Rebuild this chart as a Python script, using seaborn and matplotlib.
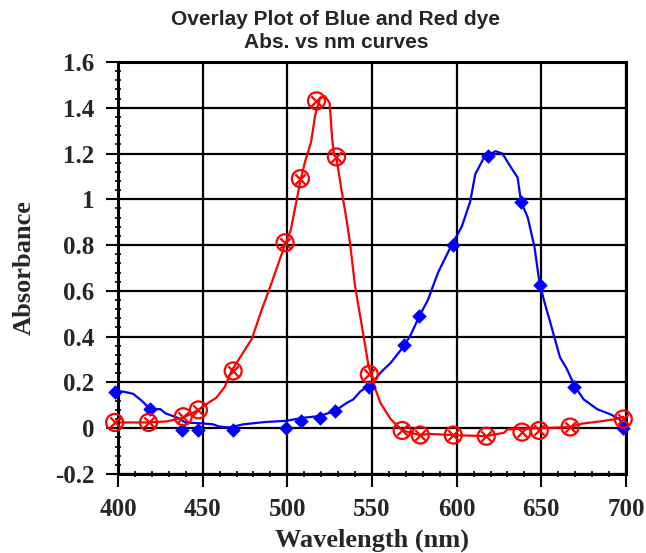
import numpy as np
import pandas as pd
import matplotlib
matplotlib.use("Agg")
import matplotlib.pyplot as plt
from matplotlib.ticker import MultipleLocator
import seaborn as sns

# traced curves (wavelength nm, absorbance)
blue_line_wl = [398, 403, 409, 414, 419, 425, 428, 435, 440, 448, 456, 460, 466, 474,
                487, 499, 510, 519, 528, 535, 539, 543, 549, 556, 561, 569, 573, 578,
                583, 589, 597, 603, 608, 611, 616, 619, 623, 627, 632, 636, 638, 642,
                646, 649, 653, 655, 658, 661, 665, 670, 675, 683, 691, 696, 699]
blue_line_abs = [0.16, 0.16, 0.15, 0.12, 0.083, 0.083, 0.065, 0.046, 0.024, 0.022, 0.017,
                 0.007, 0.003, 0.017, 0.027, 0.032, 0.046, 0.053, 0.075, 0.11, 0.126, 0.16,
                 0.19, 0.25, 0.285, 0.36, 0.41, 0.49, 0.56, 0.68, 0.80, 0.88, 0.99, 1.11,
                 1.18, 1.195, 1.21, 1.20, 1.14, 1.095, 0.99, 0.92, 0.79, 0.63, 0.52, 0.47,
                 0.39, 0.31, 0.26, 0.18, 0.126, 0.083, 0.06, 0.04, 0.01]

red_line_wl = [398, 418, 429, 438.6, 447.5, 452, 458, 463, 467, 479, 485, 490, 494, 499,
               502, 508, 510.5, 514, 516.5, 519.3, 522.3, 525, 525.5, 526.5, 527.5, 529,
               532, 535, 537, 540, 543, 546, 548, 550, 552, 555, 561, 565, 568, 578, 584,
               598, 617, 628, 630, 649, 667, 674, 685, 694, 698.5]
red_line_abs = [0.025, 0.025, 0.03, 0.046, 0.08, 0.104, 0.133, 0.18, 0.25, 0.39, 0.52,
                0.62, 0.705, 0.81, 0.865, 1.09, 1.165, 1.25, 1.37, 1.44, 1.45, 1.42, 1.37,
                1.26, 1.20, 1.18, 1.04, 0.91, 0.81, 0.62, 0.49, 0.36, 0.27, 0.23, 0.17,
                0.11, 0.04, 0.01, -0.01, -0.03, -0.025, -0.03, -0.035, -0.02, -0.005, 0.0,
                0.005, 0.02, 0.03, 0.04, 0.05]

# measured points
blue_pts_wl = [398, 419, 438, 447, 468, 499, 508, 519, 528, 548, 569, 578, 598, 618.5,
               638, 649, 669.5, 698]
blue_pts_abs = [0.16, 0.083, -0.01, -0.01, -0.01, 0.0, 0.03, 0.045, 0.073, 0.18, 0.365,
                0.49, 0.80, 1.19, 0.99, 0.626, 0.18, 0.0]

red_pts_wl = [398, 418, 438.5, 447.5, 468, 498.7, 507.7, 517.2, 529, 548.4, 567.8, 578.5,
              598, 617.5, 638.6, 648.8, 667, 698.4]
red_pts_abs = [0.025, 0.025, 0.05, 0.08, 0.25, 0.81, 1.09, 1.43, 1.185, 0.235, -0.01,
               -0.03, -0.03, -0.035, -0.017, -0.01, 0.005, 0.04]

blue_line = pd.DataFrame({"wl": blue_line_wl, "A": blue_line_abs})
red_line = pd.DataFrame({"wl": red_line_wl, "A": red_line_abs})
blue_pts = pd.DataFrame({"wl": blue_pts_wl, "A": blue_pts_abs})
red_pts = pd.DataFrame({"wl": red_pts_wl, "A": red_pts_abs})

sns.set_style("white")
serif = "Liberation Serif"
sans = "Liberation Sans"

fig = plt.figure(figsize=(6.46, 5.53), dpi=100)
ax = fig.add_axes([0.1827, 0.1429, 0.7863, 0.7451])

sns.lineplot(data=blue_line, x="wl", y="A", color="#0000ff", lw=1.6, sort=False, ax=ax)
sns.lineplot(data=red_line, x="wl", y="A", color="#ff0000", lw=1.6, sort=False, ax=ax)
sns.scatterplot(data=blue_pts, x="wl", y="A", marker="D", s=55, color="#0000ff",
                edgecolor="#0000ff", linewidth=0, ax=ax, clip_on=False, zorder=5)
sns.scatterplot(data=red_pts, x="wl", y="A", marker="o", s=150, facecolor="none",
                edgecolor="#ff0000", linewidth=1.6, ax=ax, clip_on=False, zorder=6)
sns.scatterplot(data=red_pts, x="wl", y="A", marker="x", s=55, color="#ff0000",
                linewidth=1.6, ax=ax, clip_on=False, zorder=6)

ax.set_xlim(400, 700)
ax.set_ylim(-0.2, 1.6)
ax.xaxis.set_major_locator(MultipleLocator(50))
ax.xaxis.set_minor_locator(MultipleLocator(10))
ax.yaxis.set_major_locator(MultipleLocator(0.2))
ax.yaxis.set_minor_locator(MultipleLocator(0.04))
ax.set_yticks(np.arange(-0.2, 1.61, 0.2))
ax.set_yticklabels(["-0.2", "0", "0.2", "0.4", "0.6", "0.8", "1", "1.2", "1.4", "1.6"])

ax.grid(True, which="major", color="black", lw=1.6)
for s in ax.spines.values():
    s.set_color("black")
    s.set_linewidth(2.2)
ax.tick_params(which="major", direction="out", length=9, width=1.5, color="black",
               bottom=True, left=True)
ax.tick_params(axis="y", which="major", pad=8)
ax.tick_params(axis="x", which="major", pad=8)
ax.tick_params(which="minor", direction="inout", length=5, width=1.2, color="black",
               bottom=True, left=True)
for lab in ax.get_xticklabels() + ax.get_yticklabels():
    lab.set_fontfamily(serif)
    lab.set_fontweight("bold")
    lab.set_fontsize(18)

ax.set_xlabel("Wavelength (nm)", fontfamily=serif, fontweight="bold", fontsize=19, labelpad=6)
ax.set_ylabel("Absorbance", fontfamily=serif, fontweight="bold", fontsize=19, labelpad=14)
fig.text(0.52, 1 - 31 / 553, "Overlay Plot of Blue and Red dye\nAbs. vs nm curves",
         fontfamily=sans, fontweight="bold", fontsize=15, ha="center", va="center",
         linespacing=1.25)

fig.savefig("out.png", dpi=100)
